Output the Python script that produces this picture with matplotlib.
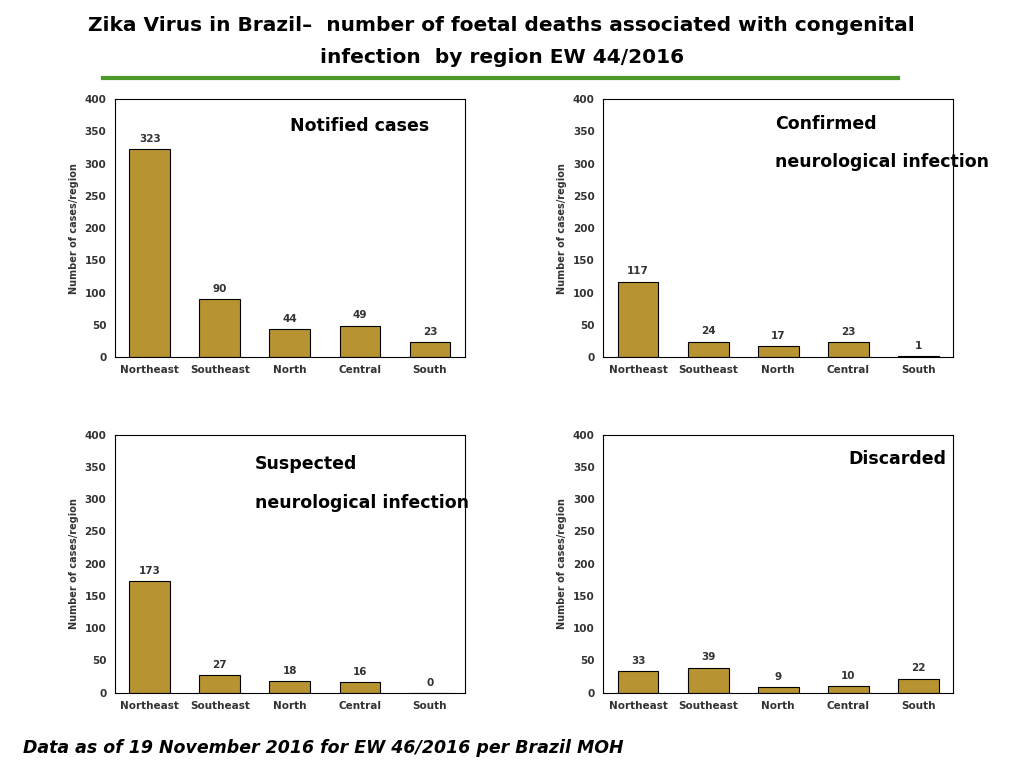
import matplotlib
matplotlib.use('Agg')
import matplotlib.pyplot as plt
from matplotlib.lines import Line2D

regions = ['Northeast', 'Southeast', 'North', 'Central', 'South']
notified = [323, 90, 44, 49, 23]
confirmed = [117, 24, 17, 23, 1]
suspected = [173, 27, 18, 16, 0]
discarded = [33, 39, 9, 10, 22]

panels = [
    (notified, ['Notified cases'], (0.112, 0.535), [(0.5, 0.93)]),
    (confirmed, ['Confirmed', 'neurological infection'], (0.589, 0.535), [(0.49, 0.94), (0.49, 0.79)]),
    (suspected, ['Suspected', 'neurological infection'], (0.112, 0.098), [(0.4, 0.92), (0.4, 0.77)]),
    (discarded, ['Discarded'], (0.589, 0.098), [(0.7, 0.94)]),
]

fig = plt.figure(figsize=(10.24, 7.68), dpi=100)
bar_color = '#B79431'

for values, labels, (left, bottom), spots in panels:
    ax = fig.add_axes([left, bottom, 0.342, 0.336])
    x = range(len(regions))
    ax.bar(x, values, width=0.58, color=bar_color, edgecolor='black', linewidth=0.8)
    for xi, v in zip(x, values):
        ax.text(xi, v + 8, str(v), ha='center', va='bottom', fontsize=7.5, fontweight='bold', color='#333333')
    ax.set_ylim(0, 400)
    ax.set_xlim(-0.5, 4.5)
    ax.set_yticks(range(0, 401, 50))
    ax.set_xticks(list(x))
    ax.set_xticklabels(regions)
    ax.tick_params(labelsize=7.5, length=0, pad=6, labelcolor='#333333')
    for lbl in ax.get_xticklabels() + ax.get_yticklabels():
        lbl.set_fontweight('bold')
    ax.set_ylabel('Number of cases/region', fontsize=7, fontweight='bold', color='#333333')
    for (tx, ty), s in zip(spots, labels):
        ax.text(tx, ty, s, transform=ax.transAxes, ha='left', va='top', fontsize=12.5, fontweight='bold')

fig.text(0.49, 0.967, 'Zika Virus in Brazil\u2013  number of foetal deaths associated with congenital',
         ha='center', va='center', fontsize=14.5, fontweight='bold')
fig.text(0.49, 0.925, 'infection  by region EW 44/2016', ha='center', va='center', fontsize=14.5, fontweight='bold')
fig.add_artist(Line2D([0.101, 0.877], [0.899, 0.899], color='#4C9A2A', linewidth=3, transform=fig.transFigure))
fig.text(0.022, 0.026, 'Data as of 19 November 2016 for EW 46/2016 per Brazil MOH',
         ha='left', va='center', fontsize=12.5, fontweight='bold', style='italic')

fig.savefig('out.png', dpi=100)
